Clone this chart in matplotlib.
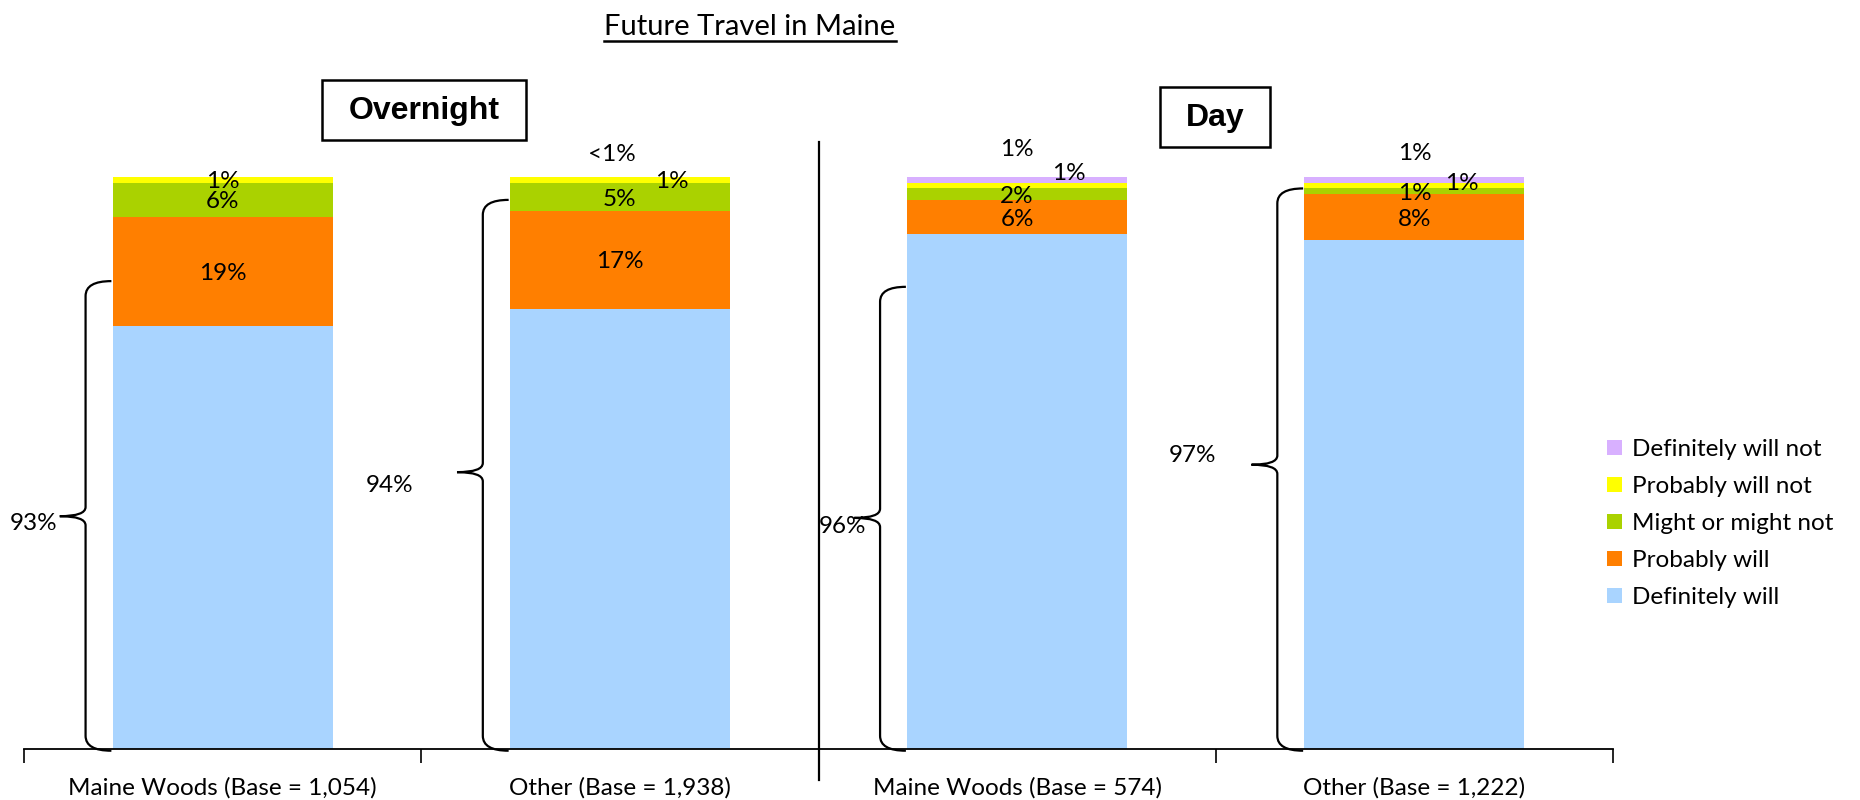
import matplotlib
matplotlib.use("Agg")
import matplotlib.pyplot as plt
from matplotlib.patches import Rectangle, PathPatch
from matplotlib.path import Path
from matplotlib.lines import Line2D

plt.rcParams['font.family'] = ['Lato', 'DejaVu Sans']

# ---------------- data ----------------
categories = ["Maine Woods (Base = 1,054)", "Other (Base = 1,938)",
              "Maine Woods (Base = 574)", "Other (Base = 1,222)"]
series_names = ["Definitely will", "Probably will", "Might or might not",
                "Probably will not", "Definitely will not"]
definitely_will = [74, 77, 90, 89]
probably_will = [19, 17, 6, 8]
might_or_might_not = [6, 5, 2, 1]
probably_will_not = [1, 1, 1, 1]
definitely_will_not = [0, 0.3, 1, 1]
top_two_box = [93, 94, 96, 97]
panel_titles = ["Overnight", "Day"]
chart_title = "Future Travel in Maine"

series_values = [definitely_will, probably_will, might_or_might_not,
                 probably_will_not, definitely_will_not]
colors = ["#A9D4FF", "#FF7F00", "#AAD200", "#FFFF00", "#D8B0FF"]

# ---------------- figure ----------------
W, H = 1860, 800
fig = plt.figure(figsize=(W / 100, H / 100), dpi=100)
ax = fig.add_axes([24 / W, 51 / H, (1613 - 24) / W, 572 / H])
ax.set_xlim(-0.5, 3.5)
ax.set_ylim(0, 100)

x = list(range(len(categories)))
bar_w = 0.554
bottoms = [0.0] * len(x)
handles = []
for s, (vals, col, name) in enumerate(zip(series_values, colors, series_names)):
    b = ax.bar(x, vals, bar_w, bottom=bottoms, color=col, label=name,
               linewidth=0, zorder=2)
    handles.append(b)
    bottoms = [bo + v for bo, v in zip(bottoms, vals)]

# segment labels (Definitely will segments are not labelled)
label_override = {  # (series, bar): (dx, y)
    (4, 1): (-0.02, 104.2),
    (3, 1): (0.13, 99.6),
    (4, 2): (0.0, 105.2),
    (3, 2): (0.13, 101.0),
    (4, 3): (0.0, 104.4),
    (3, 3): (0.12, 99.3),
}
fs = 17.5
cum = [0.0] * len(x)
for s, vals in enumerate(series_values):
    for i, v in enumerate(vals):
        center = cum[i] + v / 2
        cum[i] += v
        if s == 0 or v == 0:
            continue
        txt = "<1%" if v < 1 else f"{v:.0f}%"
        dx, yy = label_override.get((s, i), (0.0, center))
        ax.text(i + dx, yy, txt, ha="center", va="center_baseline",
                fontsize=fs, color="black", zorder=5, clip_on=False)

# curly braces showing top-two-box totals
brace_top = [81.8, 96.0, 80.8, 98.0]
brace_mid = [40.7, 48.4, 40.4, 49.7]
brace_label_dx = [-0.415, -0.52, -0.38, -0.50]
brace_label_dy = [-0.9, -2.0, -1.2, 2.0]


def brace(xc, y0, y1, ym):
    xv = xc - 0.345
    xt = xc - 0.41
    xe = xc - 0.28
    r = 2.6
    rm = 1.6
    verts = [(xe, y1), (xv, y1), (xv, y1 - r),
             (xv, ym + rm), (xv, ym), (xt, ym),
             (xv, ym), (xv, ym - rm),
             (xv, y0 + r), (xv, y0), (xe, y0)]
    codes = [Path.MOVETO, Path.CURVE3, Path.CURVE3,
             Path.LINETO, Path.CURVE3, Path.CURVE3,
             Path.CURVE3, Path.CURVE3,
             Path.LINETO, Path.CURVE3, Path.CURVE3]
    return PathPatch(Path(verts, codes), facecolor="none", edgecolor="black",
                     linewidth=1.6, clip_on=False, zorder=4)


for i, t in enumerate(top_two_box):
    ax.add_patch(brace(i, -0.3, brace_top[i], brace_mid[i]))
    ax.text(i + brace_label_dx[i], brace_mid[i] + brace_label_dy[i], f"{t}%",
            ha="right", va="center_baseline", fontsize=fs, clip_on=False)

# axes styling
for sp in ["top", "right", "left"]:
    ax.spines[sp].set_visible(False)
ax.spines["bottom"].set_linewidth(1.3)
ax.set_yticks([])
ax.set_xticks(x)
ax.set_xticklabels(categories, fontsize=fs)
ax.tick_params(axis="x", which="major", length=0, pad=20)
ax.set_xticks([-0.5, 0.5, 1.5, 2.5, 3.5], minor=True)
ax.tick_params(axis="x", which="minor", length=10, width=1.2, direction="out")

# separator line between panels
ax.plot([1.5, 1.5], [-5.4, 106.1], color="black", linewidth=1.6,
        clip_on=False, zorder=4)

# legend
leg = ax.legend(handles[::-1], series_names[::-1], loc="upper left",
                bbox_to_anchor=(1607 / W, 1 - 439 / H),
                bbox_transform=fig.transFigure, frameon=False, fontsize=fs,
                handlelength=0.6, handleheight=0.6, handletextpad=0.42,
                labelspacing=0.66, borderpad=0, borderaxespad=0)

# panel title boxes
for (x0, y0, x1, y1), name in zip([(322, 80, 526, 140), (1160, 87, 1270, 147)],
                                  panel_titles):
    fig.add_artist(Rectangle((x0 / W, 1 - y1 / H), (x1 - x0) / W, (y1 - y0) / H,
                             transform=fig.transFigure, facecolor="white",
                             edgecolor="black", linewidth=1.8))
    fig.text((x0 + x1) / 2 / W, 1 - (y0 + y1 + 2) / 2 / H, name,
             family=["Liberation Sans", "DejaVu Sans"], fontweight="bold",
             fontsize=23, ha="center", va="center")

# chart title, underlined
t = fig.text(750 / W, 1 - 27 / H, chart_title, fontsize=21, ha="center",
             va="center")
fig.canvas.draw()
bb = t.get_window_extent(fig.canvas.get_renderer())
uy = (bb.y0 - 1) / H
fig.add_artist(Line2D([bb.x0 / W, bb.x1 / W], [uy, uy],
                      transform=fig.transFigure, color="black", linewidth=1.8))

fig.savefig("out.png", dpi=100, facecolor="white")
